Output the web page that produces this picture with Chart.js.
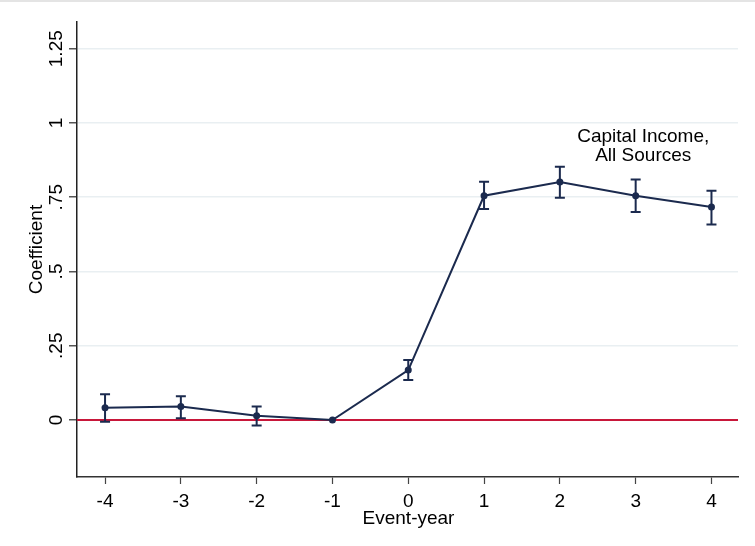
<!DOCTYPE html>
<html>
<head>
<meta charset="utf-8">
<script src="https://cdn.jsdelivr.net/npm/chart.js@4/dist/chart.umd.min.js"></script>
<style>
html,body{margin:0;padding:0;background:#fff;}
#wrap{width:755px;height:546px;position:relative;}
</style>
</head>
<body>
<div id="wrap"><canvas id="c" width="755" height="546"></canvas></div>
<script>
const eventYears = [-4, -3, -2, -1, 0, 1, 2, 3, 4];
const coefficients = [0.041, 0.045, 0.0145, 0, 0.168, 0.755, 0.801, 0.755, 0.717];
const ciLower = [-0.006, 0.006, -0.019, 0, 0.135, 0.710, 0.748, 0.700, 0.658];
const ciUpper = [0.087, 0.080, 0.045, 0, 0.202, 0.802, 0.853, 0.810, 0.772];
const yTickValues = [0, 0.25, 0.5, 0.75, 1, 1.25];
const yTickLabels = ["0", ".25", ".5", ".75", "1", "1.25"];
const xTickValues = [-4, -3, -2, -1, 0, 1, 2, 3, 4];
const xTickLabels = ["-4", "-3", "-2", "-1", "0", "1", "2", "3", "4"];
const annotationLines = ["Capital Income,", "All Sources"];
const annotationAt = {x: 3.1, y: 0.96};
const xTitle = "Event-year";
const yTitle = "Coefficient";

const NAVY = '#1b2a4e';
const FONT = '19px "Liberation Sans", Arial, sans-serif';

const customDraw = {
  id: 'customDraw',
  beforeDraw(chart) {
    const ctx = chart.ctx;
    ctx.save();
    ctx.fillStyle = '#fff';
    ctx.fillRect(0, 0, chart.width, chart.height);
    ctx.fillStyle = '#e4e4e4';
    ctx.fillRect(0, 0, chart.width, 2);
    ctx.restore();
  },
  beforeDatasetsDraw(chart) {
    const ctx = chart.ctx, xs = chart.scales.x, ys = chart.scales.y, a = chart.chartArea;
    ctx.save();
    const y0 = ys.getPixelForValue(0);
    ctx.strokeStyle = '#c8173a';
    ctx.lineWidth = 2;
    ctx.beginPath(); ctx.moveTo(a.left, y0); ctx.lineTo(a.right, y0); ctx.stroke();
    ctx.strokeStyle = NAVY;
    ctx.lineWidth = 2;
    for (let i = 0; i < eventYears.length; i++) {
      if (ciUpper[i] === ciLower[i]) continue;
      const px = xs.getPixelForValue(eventYears[i]);
      const pl = ys.getPixelForValue(ciLower[i]);
      const pu = ys.getPixelForValue(ciUpper[i]);
      ctx.beginPath();
      ctx.moveTo(px, pl); ctx.lineTo(px, pu);
      ctx.moveTo(px - 5, pl); ctx.lineTo(px + 5, pl);
      ctx.moveTo(px - 5, pu); ctx.lineTo(px + 5, pu);
      ctx.stroke();
    }
    ctx.restore();
  },
  afterDraw(chart) {
    const ctx = chart.ctx, xs = chart.scales.x, ys = chart.scales.y, a = chart.chartArea;
    ctx.save();
    ctx.fillStyle = '#000';
    ctx.font = FONT;
    ctx.textAlign = 'center';
    ctx.textBaseline = 'alphabetic';
    xTickValues.forEach((v, i) => {
      ctx.fillText(xTickLabels[i], xs.getPixelForValue(v), a.bottom + 30);
    });
    ctx.fillText(xTitle, (a.left + a.right) / 2 + 1, a.bottom + 47);
    yTickValues.forEach((v, i) => {
      ctx.save();
      ctx.translate(a.left - 15, ys.getPixelForValue(v));
      ctx.rotate(-Math.PI / 2);
      ctx.fillText(yTickLabels[i], 0, 0);
      ctx.restore();
    });
    ctx.save();
    ctx.translate(a.left - 35, (a.top + a.bottom) / 2);
    ctx.rotate(-Math.PI / 2);
    ctx.fillText(yTitle, 0, 0);
    ctx.restore();
    const ax = xs.getPixelForValue(annotationAt.x);
    const ay = ys.getPixelForValue(annotationAt.y);
    annotationLines.forEach((t, i) => ctx.fillText(t, ax, ay + 7 + i * 19));
    ctx.restore();
  }
};

new Chart(document.getElementById('c'), {
  type: 'line',
  data: {
    datasets: [{
      data: eventYears.map((x, i) => ({x: x, y: coefficients[i]})),
      borderColor: NAVY,
      backgroundColor: NAVY,
      borderWidth: 2,
      pointRadius: 3.5,
      pointBackgroundColor: NAVY,
      pointBorderWidth: 0,
      tension: 0
    }]
  },
  options: {
    responsive: false,
    animation: false,
    devicePixelRatio: 1,
    layout: {padding: {top: 22, right: 17, left: 0, bottom: 0}},
    plugins: {legend: {display: false}, tooltip: {enabled: false}},
    scales: {
      x: {
        type: 'linear',
        min: -4.37,
        max: 4.35,
        afterBuildTicks(s) { s.ticks = xTickValues.map(v => ({value: v})); },
        afterFit(s) { s.height = 69; },
        ticks: {display: false},
        grid: {drawOnChartArea: false, drawTicks: true, tickLength: 7, tickColor: '#444', tickWidth: 1.2},
        border: {display: true, color: '#333', width: 1.5}
      },
      y: {
        type: 'linear',
        min: -0.192,
        max: 1.34,
        afterBuildTicks(s) { s.ticks = yTickValues.map(v => ({value: v})); },
        afterFit(s) { s.width = 77; },
        ticks: {display: false},
        grid: {color: '#e9eff2', lineWidth: 1.5, drawTicks: true, tickLength: 8, tickColor: '#555', tickWidth: 1.5},
        border: {display: true, color: '#222', width: 1.5}
      }
    }
  },
  plugins: [customDraw]
});
</script>
</body>
</html>
